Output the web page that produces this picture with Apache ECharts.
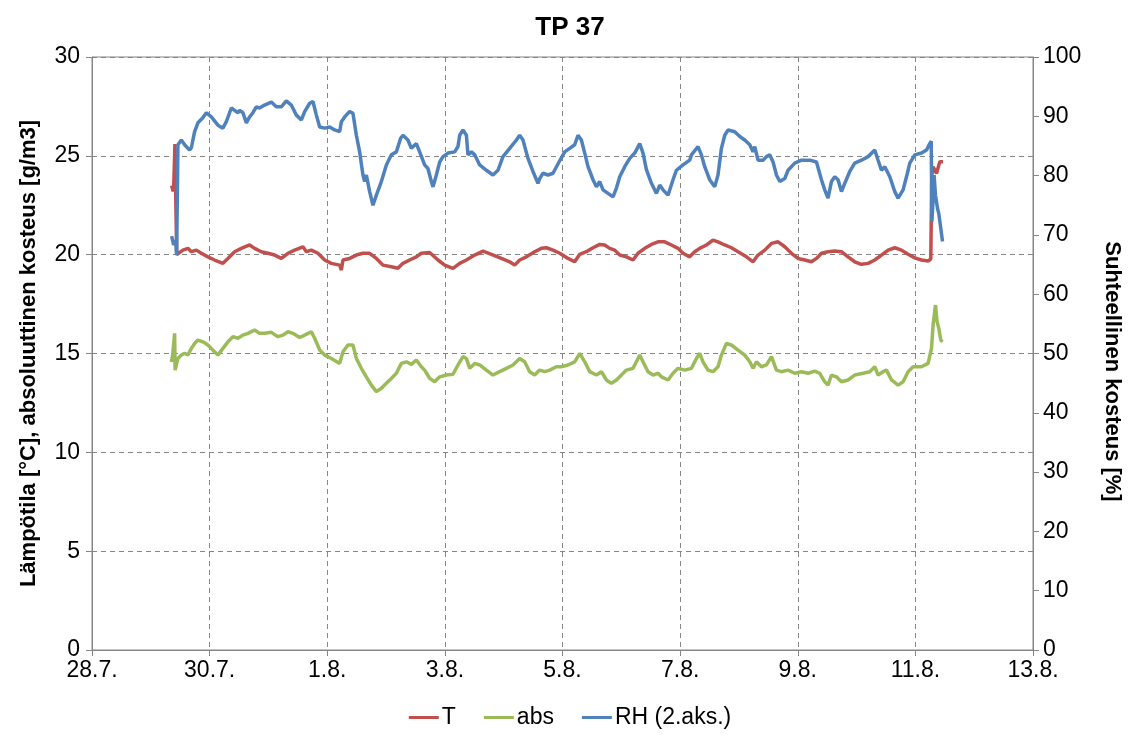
<!DOCTYPE html>
<html>
<head>
<meta charset="utf-8">
<title>TP 37</title>
<script src="https://cdn.jsdelivr.net/npm/echarts@6/dist/echarts.min.js"></script>
<style>
  html, body { margin: 0; padding: 0; background: #ffffff; }
  #chart { width: 1140px; height: 736px; }
</style>
</head>
<body>
<div id="chart"></div>
<script>
// Time is given in days after 28.7. 00:00
const xTickLabels = ['28.7.', '30.7.', '1.8.', '3.8.', '5.8.', '7.8.', '9.8.', '11.8.', '13.8.'];
const xTickStep = 2;

// Temperature T [°C]
const tDays = [1.354,1.38,1.39,1.41,1.44,1.461,1.546,1.631,1.689,1.774,1.859,1.971,2.085,2.226,2.311,2.425,2.539,2.68,2.765,2.879,2.991,3.105,3.219,3.332,3.446,3.587,3.645,3.73,3.842,3.956,4.07,4.211,4.24,4.267,4.381,4.495,4.607,4.721,4.835,4.947,5.09,5.202,5.287,5.401,5.515,5.6,5.741,5.883,5.997,6.138,6.252,6.366,6.507,6.648,6.791,6.961,7.102,7.187,7.272,7.386,7.527,7.641,7.726,7.838,7.952,8.094,8.207,8.293,8.406,8.519,8.633,8.718,8.803,8.888,8.973,9.087,9.199,9.284,9.398,9.512,9.624,9.738,9.852,9.964,10.049,10.163,10.192,10.248,10.333,10.447,10.559,10.644,10.759,10.872,10.985,11.128,11.24,11.325,11.439,11.553,11.665,11.779,11.893,12.005,12.119,12.233,12.318,12.403,12.515,12.629,12.743,12.855,12.969,13.083,13.196,13.31,13.423,13.536,13.65,13.764,13.876,13.99,14.104,14.216,14.262,14.279,14.301,14.359,14.386,14.415,14.471];
const tValues = [23.5,23.2,23.5,25.6,20.0,20.07,20.23,20.32,20.15,20.23,20.07,19.89,19.73,19.56,19.81,20.15,20.32,20.49,20.32,20.15,20.07,19.98,19.81,20.07,20.23,20.4,20.15,20.23,20.07,19.73,19.56,19.47,19.22,19.73,19.81,19.98,20.07,20.07,19.81,19.47,19.39,19.31,19.56,19.73,19.89,20.07,20.11,19.73,19.47,19.31,19.56,19.73,19.98,20.18,20.02,19.81,19.64,19.47,19.73,19.89,20.15,20.32,20.35,20.23,20.07,19.81,19.64,20.02,20.15,20.35,20.52,20.49,20.32,20.23,19.98,19.89,19.73,20.07,20.32,20.52,20.65,20.65,20.49,20.32,20.07,19.89,19.81,20.15,20.32,20.49,20.74,20.65,20.49,20.35,20.15,19.89,19.64,19.98,20.23,20.57,20.65,20.4,20.07,19.81,19.73,19.64,19.81,20.07,20.15,20.18,20.15,19.89,19.64,19.51,19.56,19.73,19.98,20.23,20.35,20.23,20.02,19.84,19.73,19.68,19.78,24.03,24.45,24.11,24.19,24.7,24.7];

// Absolute humidity abs [g/m3]
const absDays = [1.349,1.371,1.405,1.413,1.461,1.519,1.575,1.631,1.689,1.745,1.801,1.886,1.971,2.056,2.141,2.226,2.311,2.396,2.481,2.566,2.651,2.765,2.85,2.935,3.049,3.162,3.247,3.332,3.417,3.531,3.616,3.73,3.786,3.871,3.956,4.07,4.211,4.267,4.352,4.437,4.495,4.58,4.665,4.75,4.835,4.92,5.005,5.09,5.175,5.26,5.345,5.43,5.515,5.6,5.656,5.741,5.826,5.912,6.026,6.138,6.223,6.308,6.366,6.422,6.507,6.592,6.706,6.818,6.932,7.046,7.158,7.272,7.357,7.442,7.527,7.612,7.697,7.782,7.896,7.981,8.094,8.207,8.293,8.378,8.463,8.577,8.662,8.747,8.832,8.917,9.002,9.087,9.199,9.284,9.313,9.369,9.454,9.539,9.624,9.682,9.794,9.879,9.964,10.078,10.192,10.277,10.333,10.389,10.474,10.559,10.644,10.702,10.787,10.872,10.985,11.099,11.184,11.24,11.298,11.383,11.468,11.553,11.638,11.723,11.835,11.949,12.063,12.175,12.289,12.374,12.459,12.515,12.573,12.658,12.743,12.855,12.969,13.111,13.224,13.31,13.366,13.451,13.509,13.594,13.706,13.791,13.876,13.961,14.104,14.216,14.274,14.301,14.342,14.369,14.398,14.432,14.461];
const absValues = [14.57,14.92,16.02,14.16,14.75,14.92,15.01,14.92,15.26,15.51,15.68,15.59,15.43,15.17,14.92,15.26,15.59,15.85,15.77,15.93,16.02,16.19,16.02,16.02,16.07,15.85,15.93,16.1,16.02,15.81,15.93,16.1,15.77,15.18,14.92,14.75,14.5,15.09,15.43,15.43,14.75,14.25,13.82,13.4,13.07,13.24,13.49,13.74,14.0,14.5,14.58,14.45,14.67,14.33,14.16,13.74,13.57,13.82,13.91,13.95,14.42,14.84,14.75,14.25,14.5,14.42,14.16,13.91,14.08,14.25,14.42,14.75,14.58,14.08,13.91,14.16,14.08,14.16,14.33,14.33,14.42,14.58,15.01,14.58,14.08,13.91,14.08,13.66,13.49,13.66,13.91,14.16,14.25,14.75,14.92,14.58,14.08,13.91,14.0,13.82,13.66,14.0,14.25,14.16,14.25,14.75,15.01,14.58,14.16,14.08,14.33,14.92,15.51,15.43,15.17,14.92,14.58,14.25,14.58,14.33,14.42,14.84,14.16,14.08,14.16,14.0,14.08,14.0,14.11,14.0,13.57,13.4,13.91,13.82,13.57,13.66,13.91,14.0,14.08,14.33,13.91,14.08,14.16,13.66,13.4,13.57,14.08,14.33,14.33,14.5,15.26,16.44,17.45,16.61,16.27,15.68,15.59];

// Relative humidity RH [%], secondary axis
const rhDays = [1.354,1.388,1.422,1.439,1.461,1.519,1.575,1.66,1.689,1.745,1.801,1.881,1.944,2.029,2.141,2.226,2.284,2.369,2.425,2.481,2.51,2.566,2.624,2.68,2.736,2.794,2.85,2.935,3.049,3.134,3.219,3.304,3.389,3.474,3.502,3.56,3.616,3.701,3.757,3.815,3.871,3.956,4.041,4.126,4.211,4.24,4.296,4.381,4.437,4.495,4.551,4.607,4.636,4.665,4.721,4.777,4.835,4.92,5.005,5.09,5.175,5.248,5.287,5.372,5.43,5.515,5.571,5.656,5.712,5.77,5.798,5.855,5.912,5.968,6.053,6.167,6.223,6.252,6.308,6.366,6.393,6.451,6.507,6.592,6.706,6.818,6.903,6.988,7.102,7.216,7.272,7.328,7.413,7.498,7.583,7.612,7.668,7.753,7.838,7.952,8.037,8.122,8.207,8.264,8.321,8.378,8.434,8.519,8.577,8.633,8.689,8.774,8.859,8.917,8.973,9.058,9.143,9.228,9.313,9.369,9.427,9.512,9.597,9.653,9.709,9.794,9.879,9.937,10.049,10.163,10.192,10.304,10.362,10.418,10.503,10.588,10.644,10.702,10.759,10.815,10.929,11.014,11.099,11.184,11.24,11.269,11.325,11.41,11.468,11.524,11.58,11.638,11.694,11.779,11.835,11.949,12.063,12.204,12.318,12.403,12.459,12.515,12.573,12.629,12.685,12.743,12.799,12.884,12.969,13.083,13.196,13.31,13.366,13.423,13.48,13.565,13.65,13.706,13.791,13.849,13.905,13.99,14.104,14.189,14.245,14.27,14.28,14.3,14.318,14.342,14.376,14.398,14.432,14.461];
const rhValues = [69.8,68.3,69.1,66.6,85.2,86.0,85.2,84.3,84.7,87.4,88.9,89.7,90.6,89.9,88.5,88.0,89.1,91.4,91.0,90.6,91.0,90.6,88.9,89.9,90.6,91.6,91.4,91.9,92.4,91.6,91.6,92.6,91.9,90.2,90.5,89.4,90.8,92.2,92.5,90.2,88.2,88.0,88.2,87.7,87.4,89.1,89.9,90.8,90.5,86.8,84.0,80.1,79.0,80.1,77.3,75.0,76.7,79.0,81.8,83.5,84.0,86.3,86.8,86.0,84.6,85.4,84.0,81.8,81.2,79.0,78.1,80.1,82.3,83.2,83.8,84.0,84.9,86.8,87.7,86.8,83.5,84.0,83.5,81.8,80.9,80.1,80.9,83.2,84.6,86.0,86.8,86.0,82.9,80.7,78.7,79.5,80.4,80.1,80.4,82.5,84.0,84.6,85.2,86.8,86.0,83.8,81.5,79.3,78.1,79.0,77.6,77.0,76.4,77.9,79.8,81.5,82.9,83.8,85.4,83.8,81.0,78.7,77.0,78.4,77.6,76.7,79.3,80.9,81.8,82.6,83.5,84.9,83.5,81.5,79.3,78.1,80.1,84.6,86.8,87.7,87.4,86.6,86.0,85.2,84.0,84.9,82.6,82.6,83.2,83.5,82.3,80.1,79.0,79.5,80.9,82.1,82.6,82.6,82.3,79.3,77.6,76.2,79.0,79.8,79.3,77.3,78.7,80.7,82.1,82.6,83.2,84.3,82.6,80.9,81.5,79.8,77.3,76.2,77.6,79.8,82.1,83.5,83.8,84.3,85.4,85.8,72.2,75.6,80.1,76.7,74.5,73.6,71.1,68.9];

const seriesNames = ['T', 'abs', 'RH (2.aks.)'];
const seriesColors = ['#C0504D', '#9BBB59', '#4F81BD'];

function pairs(xs, ys) { return xs.map((x, i) => [x, ys[i]]); }

const FONT = '"Liberation Sans", Arial, sans-serif';
const AXIS_GRAY = '#868686';

const chart = echarts.init(document.getElementById('chart'));

const lineSeries = (name, color, data, yIndex) => ({
  name: name,
  type: 'line',
  yAxisIndex: yIndex,
  data: data,
  showSymbol: false,
  symbol: 'none',
  animation: false,
  lineStyle: { color: color, width: 3.5 },
  itemStyle: { color: color }
});

chart.setOption({
  animation: false,
  backgroundColor: '#ffffff',
  textStyle: { fontFamily: FONT, color: '#000' },
  title: {
    text: 'TP 37',
    left: 'center',
    top: 10,
    textStyle: { fontFamily: FONT, fontSize: 26, fontWeight: 'bold', color: '#000' }
  },
  grid: {
    left: 92, right: 107, top: 57, bottom: 86,
    show: true, borderColor: AXIS_GRAY, borderWidth: 1, backgroundColor: 'transparent'
  },
  legend: {
    bottom: 2,
    left: 'center',
    icon: 'rect',
    itemWidth: 30,
    itemHeight: 3,
    itemGap: 28,
    textStyle: { fontFamily: FONT, fontSize: 23, color: '#000', padding: [0, 0, 0, -2] },
    data: seriesNames
  },
  xAxis: {
    type: 'value',
    min: 0,
    max: (xTickLabels.length - 1) * xTickStep,
    interval: xTickStep,
    axisLine: { show: true, lineStyle: { color: AXIS_GRAY, width: 1 } },
    axisTick: { show: true, length: 6, lineStyle: { color: AXIS_GRAY } },
    axisLabel: {
      fontFamily: FONT, fontSize: 23, color: '#000', margin: 9,
      formatter: v => xTickLabels[Math.round(v / xTickStep)] || ''
    },
    splitLine: { show: true, lineStyle: { color: AXIS_GRAY, type: [5, 4], width: 1 } }
  },
  yAxis: [
    {
      type: 'value',
      min: 0, max: 30, interval: 5,
      name: 'Lämpötila [°C], absoluuttinen kosteus [g/m3]',
      nameLocation: 'middle',
      nameGap: 52,
      nameRotate: 90,
      nameTextStyle: { fontFamily: FONT, fontSize: 22, fontWeight: 'bold', color: '#000' },
      axisLine: { show: true, lineStyle: { color: AXIS_GRAY, width: 1 } },
      axisTick: { show: true, length: 6, lineStyle: { color: AXIS_GRAY } },
      axisLabel: { fontFamily: FONT, fontSize: 23, color: '#000', margin: 12 },
      splitLine: { show: true, lineStyle: { color: AXIS_GRAY, type: [5, 4], width: 1 } }
    },
    {
      type: 'value',
      position: 'right',
      min: 0, max: 100, interval: 10,
      name: 'Suhteellinen kosteus [%]',
      nameLocation: 'middle',
      nameGap: 68,
      nameRotate: -90,
      nameTextStyle: { fontFamily: FONT, fontSize: 22, fontWeight: 'bold', color: '#000', padding: [0, 0, 0, 36] },
      axisLine: { show: true, lineStyle: { color: AXIS_GRAY, width: 1 } },
      axisTick: { show: true, length: 6, lineStyle: { color: AXIS_GRAY } },
      axisLabel: { fontFamily: FONT, fontSize: 23, color: '#000', margin: 10 },
      splitLine: { show: false }
    }
  ],
  series: [
    lineSeries(seriesNames[0], seriesColors[0], pairs(tDays, tValues), 0),
    lineSeries(seriesNames[1], seriesColors[1], pairs(absDays, absValues), 0),
    lineSeries(seriesNames[2], seriesColors[2], pairs(rhDays, rhValues), 1)
  ]
});
</script>
</body>
</html>
